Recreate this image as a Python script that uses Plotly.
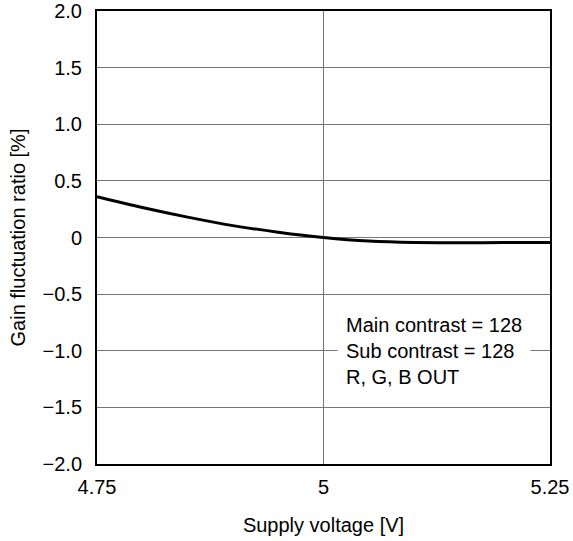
import plotly.graph_objects as go

voltage = [4.75, 4.80, 4.85, 4.90, 4.95, 5.00, 5.05, 5.10, 5.15, 5.20, 5.25]
gain_ratio = [0.36, 0.265, 0.18, 0.105, 0.047, 0.0, -0.032, -0.045, -0.046, -0.045, -0.045]

x_ticks = [4.75, 5.0, 5.25]
x_labels = ["4.75", "5", "5.25"]
y_ticks = [-2.0, -1.5, -1.0, -0.5, 0, 0.5, 1.0, 1.5, 2.0]
y_labels = ["\u22122.0", "\u22121.5", "\u22121.0", "\u22120.5", "0", "0.5", "1.0", "1.5", "2.0"]

font = "Liberation Sans, Arial, sans-serif"

fig = go.Figure()
fig.add_trace(go.Scatter(x=voltage, y=gain_ratio, mode="lines",
                         line=dict(color="black", width=3, shape="spline", smoothing=0.8),
                         showlegend=False, hoverinfo="skip"))

fig.add_annotation(x=0.530, y=0.25, xref="paper", yref="paper",
                   xanchor="left", yanchor="middle", align="left", showarrow=False,
                   text="Main contrast = 128<br>Sub contrast = 128<br>R, G, B OUT",
                   font=dict(family=font, size=20, color="black"),
                   bgcolor="white", borderpad=8)

fig.update_layout(
    width=573, height=541,
    margin=dict(l=97, r=23, t=11, b=77, autoexpand=False),
    paper_bgcolor="white", plot_bgcolor="white",
    font=dict(family=font, size=20, color="black"),
    xaxis=dict(range=[4.75, 5.25], tickvals=x_ticks, ticktext=x_labels,
               tickfont=dict(family=font, size=20, color="black"),
               showgrid=True, gridcolor="#777777", gridwidth=1,
               showline=True, linecolor="black", linewidth=2, mirror=True,
               ticks="outside", ticklen=4, tickcolor="rgba(0,0,0,0)",
               ticklabeloverflow="allow",
               zeroline=False, automargin=False,
               title=dict(text="Supply voltage [V]", standoff=21,
                          font=dict(family=font, size=20, color="black"))),
    yaxis=dict(range=[-2, 2], tickvals=y_ticks, ticktext=y_labels,
               tickfont=dict(family=font, size=20, color="black"),
               showgrid=True, gridcolor="#777777", gridwidth=1,
               showline=True, linecolor="black", linewidth=2, mirror=True,
               ticks="outside", ticklen=9, tickcolor="rgba(0,0,0,0)",
               ticklabeloverflow="allow",
               zeroline=False, automargin=False,
               title=dict(text="Gain fluctuation ratio [%]", standoff=12,
                          font=dict(family=font, size=20, color="black"))),
)

fig.write_html("out.html", config={"displayModeBar": False},
               post_script="document.body.style.margin='0';")
